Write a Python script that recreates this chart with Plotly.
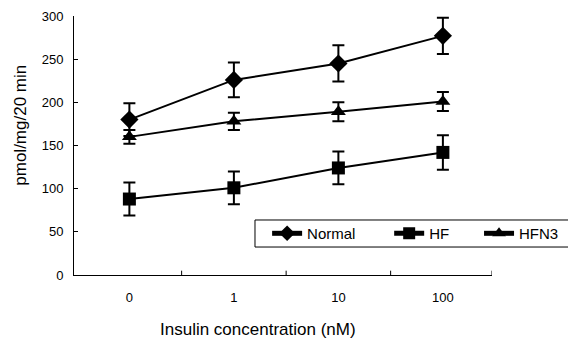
import plotly.graph_objects as go

categories = ["0", "1", "10", "100"]
normal = [180, 226, 245, 277]
normal_err = [19, 20, 21, 21]
hf = [88, 101, 124, 142]
hf_err = [19, 19, 19, 20]
hfn3 = [160, 178, 189, 201]
hfn3_err = [8, 10, 11, 11]
y_ticks = [0, 50, 100, 150, 200, 250, 300]

xs = [0, 1, 2, 3]

fig = go.Figure()
series = [
    ("Normal", normal, normal_err, "diamond", 14, "legend", 0.462),
    ("HF", hf, hf_err, "square", 13, "legend2", 0.754),
    ("HFN3", hfn3, hfn3_err, "triangle-up", 13, "legend3", 0.969),
]
legends = {}
for name, vals, errs, sym, size, leg, lx in series:
    fig.add_trace(go.Scatter(
        x=xs, y=vals, name=name, mode="lines+markers", legend=leg,
        line=dict(color="black", width=2),
        marker=dict(symbol=sym, size=size, color="black"),
        error_y=dict(type="data", array=errs, visible=True, color="black",
                     thickness=2, width=6),
    ))
    legends[leg] = dict(
        x=lx, y=0.160, xanchor="left", yanchor="middle",
        bgcolor="rgba(0,0,0,0)", borderwidth=0, font=dict(size=15),
        itemsizing="constant",
    )

fig.update_layout(
    width=568, height=342,
    margin=dict(l=74, r=76, t=16, b=67, autoexpand=False),
    paper_bgcolor="white", plot_bgcolor="white",
    font=dict(family="Liberation Sans, Arial, sans-serif", size=12, color="black"),
    showlegend=True,
    xaxis=dict(
        range=[-0.53, 3.47], tickmode="array", tickvals=xs, ticktext=categories,
        showline=True, linecolor="black", linewidth=1, showgrid=False,
        zeroline=False, ticks="", tickfont=dict(size=13), automargin=False,
        ticklabelstandoff=10,
    ),
    yaxis=dict(
        range=[0, 300], tickvals=y_ticks,
        showline=True, linecolor="black", linewidth=1, showgrid=False,
        zeroline=False, ticks="inside", ticklen=4, tickcolor="black",
        tickfont=dict(size=13), automargin=False, ticklabelstandoff=7,
    ),
    annotations=[
        dict(text="pmol/mg/20 min", textangle=-90, xref="paper", yref="paper",
             x=-0.13, y=0.579, xanchor="center", yanchor="middle",
             showarrow=False, font=dict(size=17)),
        dict(text="Insulin concentration (nM)", xref="paper", yref="paper",
             x=0.44, y=-0.21, xanchor="center", yanchor="middle",
             showarrow=False, font=dict(size=17)),
    ],
    **legends,
)

# legend box
fig.add_shape(type="rect", xref="paper", yref="paper", x0=0.433, x1=1.2,
              y0=0.108, y1=0.2124, line=dict(color="black", width=1),
              fillcolor="white", layer="below")

# category boundary ticks on x axis
for b in [0.5, 1.5, 2.5, 3.47]:
    fig.add_shape(type="line", xref="x", yref="y", x0=b, x1=b, y0=0, y1=5,
                  line=dict(color="black", width=1))

fig.write_html("out.html", config={"displayModeBar": False},
               post_script="document.body.style.margin='0';")
